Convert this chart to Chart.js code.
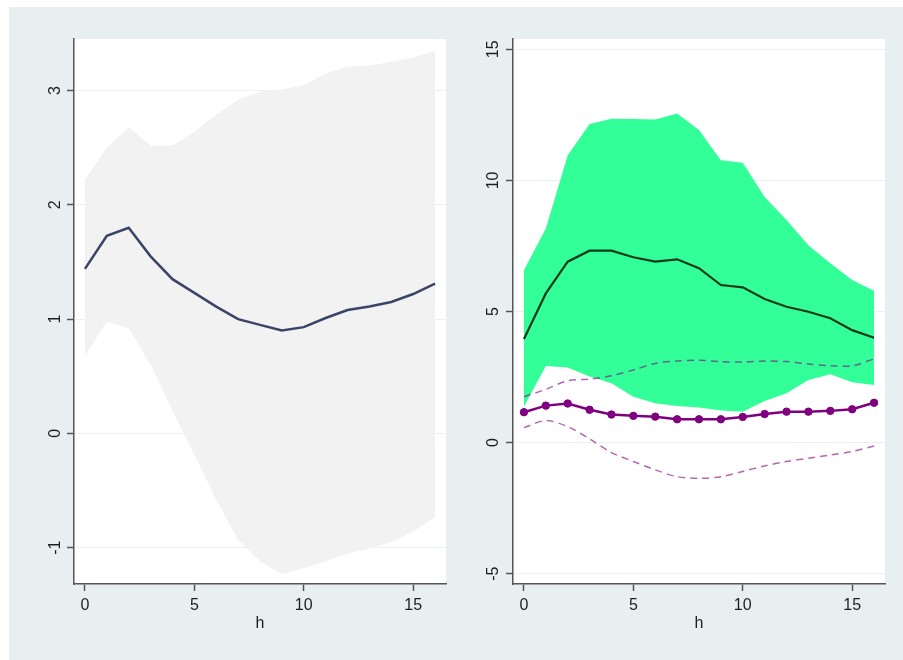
<!DOCTYPE html>
<html>
<head>
<meta charset="utf-8">
<script src="https://cdn.jsdelivr.net/npm/chart.js@4.4.1/dist/chart.umd.min.js"></script>
<style>
  html, body { margin: 0; padding: 0; background: #fff; }
  #frame { position: absolute; left: 9px; top: 7px; width: 894px; height: 653px; background: #e8eff1; }
  canvas { position: absolute; top: 0; }
  #left { left: 0; }
  #right { left: 451px; }
</style>
</head>
<body>
<div id="frame"></div>
<canvas id="left" width="451" height="660"></canvas>
<canvas id="right" width="452" height="660"></canvas>
<script>
// horizons 0..16
const horizons = [0, 1, 2, 3, 4, 5, 6, 7, 8, 9, 10, 11, 12, 13, 14, 15, 16];

// left panel: response with grey band
const leftIrf   = [1.44, 1.73, 1.80, 1.55, 1.35, 1.23, 1.11, 1.00, 0.95, 0.90, 0.93, 1.01, 1.08, 1.11, 1.15, 1.22, 1.31];
const leftUpper = [2.22, 2.50, 2.68, 2.52, 2.52, 2.64, 2.79, 2.92, 2.99, 3.01, 3.05, 3.15, 3.21, 3.22, 3.25, 3.29, 3.35];
const leftLower = [0.68, 0.98, 0.92, 0.60, 0.20, -0.19, -0.58, -0.93, -1.12, -1.23, -1.18, -1.12, -1.05, -1.01, -0.95, -0.86, -0.73];

// right panel: green band + dark line
const greenIrf   = [3.95, 5.69, 6.90, 7.32, 7.32, 7.07, 6.90, 6.99, 6.65, 6.01, 5.92, 5.48, 5.18, 4.99, 4.74, 4.29, 4.00];
const greenUpper = [6.58, 8.17, 10.96, 12.15, 12.35, 12.34, 12.32, 12.55, 11.92, 10.77, 10.67, 9.37, 8.49, 7.53, 6.84, 6.20, 5.79];
const greenLower = [1.37, 2.92, 2.86, 2.52, 2.26, 1.75, 1.50, 1.40, 1.34, 1.22, 1.18, 1.59, 1.88, 2.39, 2.61, 2.30, 2.20];

// right panel: purple line with dashed bounds
const purpleIrf   = [1.16, 1.41, 1.49, 1.25, 1.07, 1.02, 0.99, 0.89, 0.89, 0.89, 0.98, 1.09, 1.18, 1.18, 1.21, 1.27, 1.52];
const purpleUpper = [1.75, 2.03, 2.36, 2.42, 2.55, 2.77, 3.02, 3.11, 3.14, 3.09, 3.07, 3.11, 3.09, 3.00, 2.93, 2.93, 3.19];
const purpleLower = [0.57, 0.84, 0.61, 0.14, -0.38, -0.72, -1.04, -1.30, -1.36, -1.30, -1.10, -0.89, -0.72, -0.60, -0.47, -0.34, -0.13];

const xTicks = [0, 5, 10, 15];
const leftYTicks = [-1, 0, 1, 2, 3];
const rightYTicks = [-5, 0, 5, 10, 15];

const pts = vals => vals.map((y, i) => ({ x: horizons[i], y }));

const axisColor = '#555';
const gridColor = '#e9f1f2';
const textColor = '#1e1e1e';
const font = { family: "'Liberation Sans', Arial, sans-serif", size: 16 };

const plotBackground = {
  id: 'plotBackground',
  beforeDraw(chart) {
    const { ctx, chartArea: a } = chart;
    ctx.save();
    ctx.fillStyle = '#fff';
    ctx.fillRect(a.left, a.top, a.right - a.left, a.bottom - a.top);
    ctx.restore();
  }
};

function scales(yMin, yMax, yTicks, yWidth, yPad) {
  return {
    x: {
      type: 'linear',
      min: -0.5,
      max: 16.5,
      afterBuildTicks: s => { s.ticks = xTicks.map(v => ({ value: v })); },
      afterFit: s => { s.height = 76; },
      grid: { drawOnChartArea: false, tickLength: 7, tickColor: axisColor, tickWidth: 1.5 },
      border: { color: axisColor, width: 1.5 },
      ticks: { font, color: textColor, padding: 5, maxRotation: 0 },
      title: { display: true, text: 'h', font, color: textColor, padding: { top: 0, bottom: 27 } }
    },
    y: {
      type: 'linear',
      min: yMin,
      max: yMax,
      afterBuildTicks: s => { s.ticks = yTicks.map(v => ({ value: v })); },
      afterFit: s => { s.width = yWidth; },
      grid: { color: gridColor, lineWidth: 1, tickLength: 7, tickColor: axisColor, tickWidth: 1.5 },
      border: { color: axisColor, width: 1.5 },
      ticks: { font, color: textColor, padding: yPad, minRotation: 90, maxRotation: 90, crossAlign: 'center' }
    }
  };
}

const common = {
  responsive: false,
  animation: false,
  events: [],
  plugins: {
    legend: { display: false },
    tooltip: { enabled: false },
    filler: { drawTime: 'beforeDatasetsDraw' }
  }
};

function band(lower, upper, color) {
  return [
    { data: pts(lower), borderWidth: 0, borderColor: 'transparent', pointRadius: 0, fill: false },
    { data: pts(upper), borderWidth: 0, borderColor: 'transparent', pointRadius: 0, fill: '-1', backgroundColor: color }
  ];
}

new Chart(document.getElementById('left'), {
  type: 'line',
  plugins: [plotBackground],
  data: {
    datasets: [
      ...band(leftLower, leftUpper, '#f2f2f2'),
      { data: pts(leftIrf), borderColor: '#3b4466', borderWidth: 2.5, pointRadius: 0, fill: false }
    ]
  },
  options: {
    ...common,
    layout: { padding: { left: 0, top: 39, right: 5, bottom: 0 } },
    scales: scales(-1.318, 3.452, leftYTicks, 74, 4)
  }
});

new Chart(document.getElementById('right'), {
  type: 'line',
  plugins: [plotBackground],
  data: {
    datasets: [
      ...band(greenLower, greenUpper, '#33ff99'),
      { data: pts(greenIrf), borderColor: '#113a1a', borderWidth: 2.2, pointRadius: 0, fill: false, order: 3 },
      { data: pts(purpleUpper), borderColor: 'rgba(128,0,128,0.6)', borderWidth: 1.5, borderDash: [7, 5], pointRadius: 0, tension: 0.3, fill: false, order: 2 },
      { data: pts(purpleLower), borderColor: 'rgba(128,0,128,0.6)', borderWidth: 1.5, borderDash: [7, 5], pointRadius: 0, tension: 0.3, fill: false, order: 2 },
      { data: pts(purpleIrf), borderColor: '#800080', borderWidth: 2.5, pointRadius: 3.7, pointBackgroundColor: '#800080', pointBorderColor: '#800080', pointBorderWidth: 1, fill: false, order: 1 }
    ]
  },
  options: {
    ...common,
    layout: { padding: { left: 0, top: 39, right: 18, bottom: 0 } },
    scales: scales(-5.393, 15.393, rightYTicks, 62, 4)
  }
});
</script>
</body>
</html>
